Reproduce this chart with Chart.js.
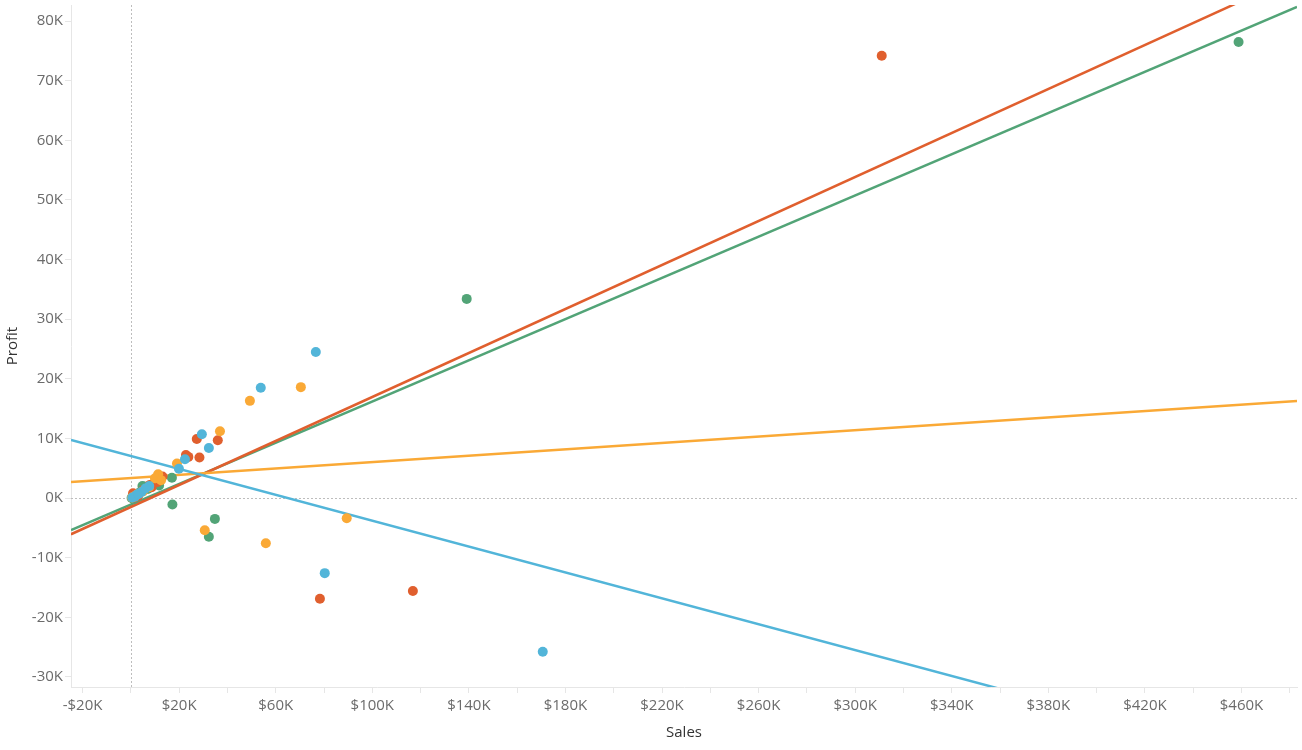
<!DOCTYPE html>
<html>
<head>
<meta charset="utf-8">
<title>Sales vs Profit</title>
<script src="https://cdn.jsdelivr.net/npm/chart.js@4"></script>
<style>
  body { margin: 0; background: #fff; }
  #chart { display: block; }
</style>
</head>
<body>
<canvas id="chart" width="1302" height="750"></canvas>
<script>
// Series (no legend in the original, colours only)
const seriesNames = ['Blue', 'Orange', 'Red', 'Green'];
const seriesColors = ['#52b5d9', '#faa936', '#e05f2e', '#52a477'];

// Sales / Profit per series
const blueSales = [170600, 76600, 53800, 29400, 32300, 22400, 19900, 7600, 4400, 2300, 1600, 80300, 600, 3200, 6000];
const blueProfit = [-25800, 24500, 18500, 10700, 8400, 6500, 4900, 2000, 1000, 500, 200, -12600, 100, 700, 1600];

const orangeSales = [70400, 49300, 36900, 19100, 11300, 10000, 30600, 55900, 89400, 1500, 3000, 5000, 7500, 500, 12500];
const orangeProfit = [18600, 16300, 11200, 5800, 4000, 3300, -5400, -7600, -3400, 300, 700, 1100, 1800, 100, 3000];

const redSales = [311000, 27300, 36000, 22800, 23800, 28400, 13100, 8600, 7900, 900, 78300, 116800, 1500, 3000, 5000, 11000];
const redProfit = [74200, 9900, 9700, 7200, 6900, 6800, 3600, 1800, 2200, 800, -16900, -15600, 100, 400, 1300, 2700];

const greenSales = [458800, 139100, 17000, 17200, 34800, 32300, 11700, 5800, 4800, 300, 2000, 3500, 1200, 7000, 9000];
const greenProfit = [76500, 33400, 3400, -1100, -3500, -6500, 2100, 1900, 2000, 0, 400, 900, -200, 1500, 2300];

// Linear trend lines (slope, intercept) per series
const trendSlope = [-0.1085, 0.0268, 0.1845, 0.1728];
const trendIntercept = [7040, 3350, -1500, -1090];

// Axis ranges and ticks
const xMin = -24800, xMax = 483000;
const yMin = -31700, yMax = 82700;
const xTickStep = 20000;
const yTickStep = 10000;

const salesList = [blueSales, orangeSales, redSales, greenSales];
const profitList = [blueProfit, orangeProfit, redProfit, greenProfit];

function toPoints(xs, ys) {
  return xs.map((x, i) => ({ x: x, y: ys[i] }));
}

function formatSales(v) {
  const k = Math.round(Math.abs(v) / 1000);
  return (v < 0 ? '-$' : '$') + k + 'K';
}

// scatter marks
const pointSets = seriesNames.map((name, i) => ({
  type: 'scatter',
  label: name,
  data: toPoints(salesList[i], profitList[i]),
  backgroundColor: seriesColors[i],
  borderWidth: 0,
  pointRadius: 5,
  pointHoverRadius: 5,
}));

// trend lines across the full x range
const trendSets = seriesNames.map((name, i) => ({
  type: 'line',
  label: name + ' trend',
  data: [
    { x: xMin, y: trendIntercept[i] + trendSlope[i] * xMin },
    { x: xMax, y: trendIntercept[i] + trendSlope[i] * xMax },
  ],
  borderColor: seriesColors[i],
  borderWidth: 2.5,
  pointRadius: 0,
  fill: false,
}));

// dotted zero lines
const zeroLines = {
  id: 'zeroLines',
  beforeDatasetsDraw(chart) {
    const { ctx, chartArea, scales } = chart;
    const x0 = scales.x.getPixelForValue(0);
    const y0 = scales.y.getPixelForValue(0);
    ctx.save();
    ctx.strokeStyle = '#bdbdbd';
    ctx.lineWidth = 1;
    ctx.setLineDash([2, 2]);
    ctx.beginPath();
    ctx.moveTo(Math.round(x0) + 0.5, chartArea.top);
    ctx.lineTo(Math.round(x0) + 0.5, chartArea.bottom);
    ctx.moveTo(chartArea.left, Math.round(y0) + 0.5);
    ctx.lineTo(chartArea.right, Math.round(y0) + 0.5);
    ctx.stroke();
    ctx.restore();
  },
};

const tickFont = { family: '"Open Sans", sans-serif', size: 15 };
const titleFont = { family: '"Open Sans", sans-serif', size: 15 };

new Chart(document.getElementById('chart'), {
  type: 'scatter',
  data: { datasets: pointSets.concat(trendSets) },
  options: {
    responsive: false,
    animation: false,
    events: [],
    layout: { padding: { top: 5, right: 4, left: 0, bottom: 0 } },
    plugins: {
      legend: { display: false },
      tooltip: { enabled: false },
    },
    scales: {
      x: {
        type: 'linear',
        min: xMin,
        max: xMax,
        afterBuildTicks(scale) {
          const ticks = [];
          for (let v = -20000; v <= 480000; v += xTickStep) ticks.push({ value: v });
          scale.ticks = ticks;
        },
        afterFit(scale) { scale.height = 63; },
        ticks: {
          autoSkip: false,
          maxRotation: 0,
          color: '#6b6b6b',
          font: tickFont,
          padding: 4,
          callback: (v) => ((v + 20000) % 40000 === 0 ? formatSales(v) : ''),
        },
        grid: {
          drawOnChartArea: false,
          drawTicks: true,
          tickLength: 6,
          tickColor: '#e6e6e6',
        },
        border: { display: true, color: '#e6e6e6' },
        title: {
          display: true,
          text: 'Sales',
          color: '#333333',
          font: titleFont,
          padding: { top: 0, bottom: 8 },
        },
      },
      y: {
        type: 'linear',
        min: yMin,
        max: yMax,
        afterBuildTicks(scale) {
          const ticks = [];
          for (let v = -30000; v <= 80000; v += yTickStep) ticks.push({ value: v });
          scale.ticks = ticks;
        },
        afterFit(scale) {
          scale.width = 71;
          scale.paddingTop = 0;
          scale.paddingBottom = 0;
        },
        ticks: {
          autoSkip: false,
          color: '#6b6b6b',
          font: tickFont,
          padding: 2,
          callback: (v) => v / 1000 + 'K',
        },
        grid: {
          drawOnChartArea: false,
          drawTicks: true,
          tickLength: 6,
          tickColor: '#e6e6e6',
        },
        border: { display: true, color: '#e6e6e6' },
        title: {
          display: true,
          text: 'Profit',
          color: '#333333',
          font: titleFont,
          padding: { top: 4, bottom: 0 },
        },
      },
    },
  },
  plugins: [zeroLines],
});
</script>
</body>
</html>
